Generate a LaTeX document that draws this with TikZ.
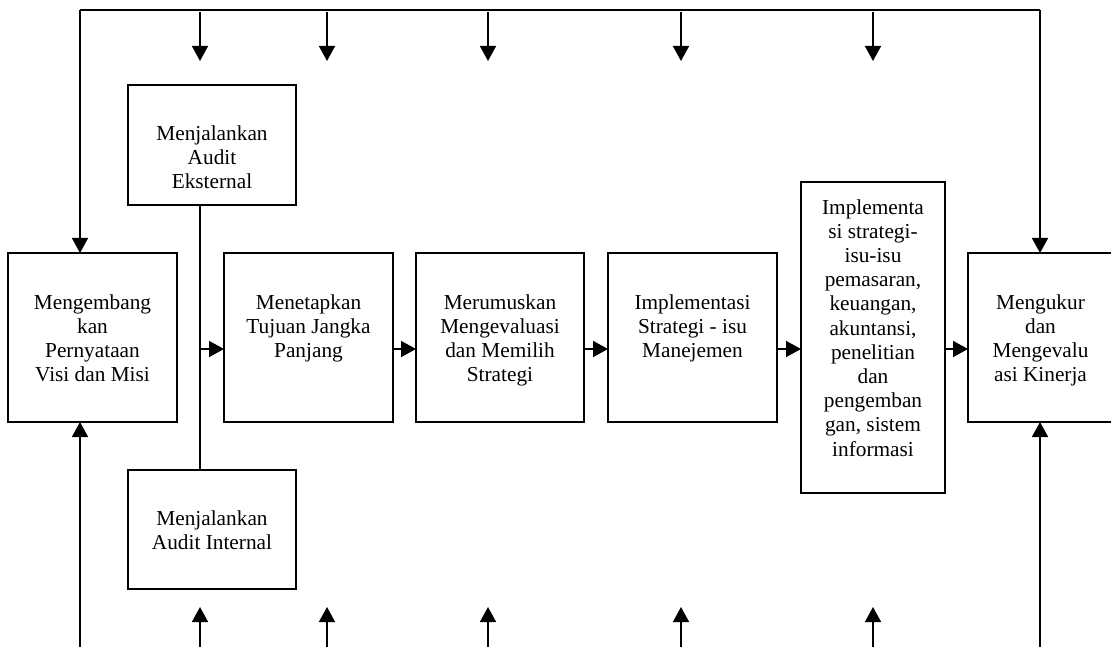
\documentclass[tikz,border=0pt]{standalone}
\usepackage{fontspec}
\setmainfont{Liberation Serif}
\usetikzlibrary{arrows.meta}

\begin{document}
\begin{tikzpicture}[x=1pt,y=-1pt,
  box/.style={draw, line width=1.7pt, inner sep=0pt, outer sep=0pt},
  lbl/.style={anchor=north, inner sep=0pt, align=center,
              font=\fontsize{21.3}{24.2}\selectfont},
  wire/.style={line width=1.6pt},
  flow/.style={line width=1.6pt, -{Triangle[length=15pt,width=16pt]}}
]
\useasboundingbox (0,0) rectangle (1111,647);

% process boxes
\node[box, minimum width=169pt, minimum height=169pt] (vm)  at (92.5,337.5) {};
\node[box, minimum width=168pt, minimum height=120pt] (ext) at (212,145) {};
\node[box, minimum width=168pt, minimum height=119pt] (int) at (212,529.5) {};
\node[box, minimum width=169pt, minimum height=169pt] (tuj) at (308.5,337.5) {};
\node[box, minimum width=168pt, minimum height=169pt] (rum) at (500,337.5) {};
\node[box, minimum width=169pt, minimum height=169pt] (man) at (692.5,337.5) {};
\node[box, minimum width=144pt, minimum height=311pt] (fun) at (873,337.5) {};
\node[box, minimum width=145pt, minimum height=169pt] (kin) at (1040.5,337.5) {};

% box texts
\node[lbl] (vmt)  at (92.5,292)  {\strut Mengembang\\kan\\Pernyataan\\Visi dan Misi};
\node[lbl] (extt) at (212,123)   {\strut Menjalankan\\Audit\\Eksternal};
\node[lbl] (intt) at (212,508)   {\strut Menjalankan\\Audit Internal};
\node[lbl] (tujt) at (308.5,292) {\strut Menetapkan\\Tujuan Jangka\\Panjang};
\node[lbl] (rumt) at (500,292)   {\strut Merumuskan\\Mengevaluasi\\dan Memilih\\Strategi};
\node[lbl] (mant) at (692.5,292) {\strut Implementasi\\Strategi - isu\\Manejemen};
\node[lbl] (funt) at (873,197)   {\strut Implementa\\si strategi-\\isu-isu\\pemasaran,\\keuangan,\\akuntansi,\\penelitian\\dan\\pengemban\\gan, sistem\\informasi};
\node[lbl] (kint) at (1040.5,292){\strut Mengukur\\dan\\Mengevalu\\asi Kinerja};

% feedback bus along the top
\coordinate (tl) at (80,10);
\coordinate (tr) at (1040,10);
\draw[wire] (tl) -- (tr);
\draw[flow] (tl) -- (tl |- vm.north);
\draw[flow] (tr) -- (tr |- kin.north);

% feedback lines from the bottom
\coordinate (bl) at (80,647);
\coordinate (br) at (1040,647);
\draw[flow] (bl) -- (bl |- vm.south);
\draw[flow] (br) -- (br |- kin.south);

% short arrows under the top bus and above the bottom edge
\foreach \i/\xx in {1/200,2/327,3/488,4/681,5/873} {
  \coordinate (u\i) at (\xx,12);
  \coordinate (ue\i) at (\xx,61);
  \draw[flow] (u\i) -- (ue\i);
  \coordinate (l\i) at (\xx,647);
  \coordinate (le\i) at (\xx,607);
  \draw[flow] (l\i) -- (le\i);
}

% audit spine and main flow
\coordinate (sp) at (200,349);
\draw[wire] (ext.south -| sp) -- (int.north -| sp);
\draw[flow] (sp) -- (sp -| tuj.west);
\draw[flow] (tuj.east |- sp) -- (rum.west |- sp);
\draw[flow] (rum.east |- sp) -- (man.west |- sp);
\draw[flow] (man.east |- sp) -- (fun.west |- sp);
\draw[flow] (fun.east |- sp) -- (kin.west |- sp);
\end{tikzpicture}
\end{document}
